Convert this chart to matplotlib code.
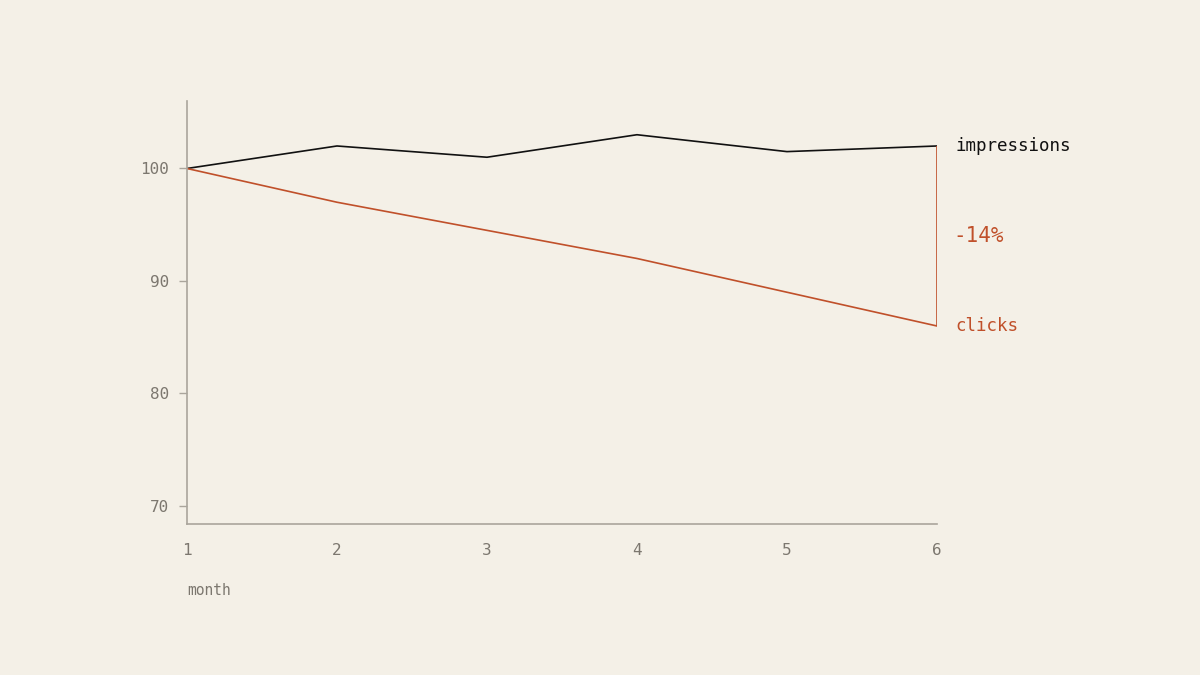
import matplotlib.pyplot as plt

# Chart data
months = [1, 2, 3, 4, 5, 6]
impressions = [100, 102, 101, 103, 101.5, 102]
clicks = [100, 97, 94.5, 92, 89, 86]
y_ticks = [70, 80, 90, 100]
gap_label = "-14%"

bg = "#f4f0e7"
orange = "#c0502a"
grey = "#7c776f"
spine_grey = "#aaa59c"

plt.rcParams['font.family'] = ['DejaVu Sans Mono']

fig = plt.figure(figsize=(12, 6.75), dpi=100, facecolor=bg)
ax = fig.add_axes([0.1558, 0.2237, 0.625, 0.6267])
ax.set_facecolor(bg)

ax.plot(months, impressions, color="#111111", lw=1.2)
ax.plot(months, clicks, color=orange, lw=1.2)

# gap between the two series at the last month
ax.vlines(months[-1], clicks[-1], impressions[-1], color=orange, lw=1.2)

ax.set_xlim(1, 6)
ax.set_ylim(68.4, 106)
ax.set_xticks(months)
ax.set_yticks(y_ticks)

for side in ["top", "right"]:
    ax.spines[side].set_visible(False)
for side in ["left", "bottom"]:
    ax.spines[side].set_color(spine_grey)
    ax.spines[side].set_linewidth(1.2)

ax.tick_params(axis="y", colors=spine_grey, labelcolor=grey, length=6,
               width=1, pad=7, labelsize=11.5)
ax.tick_params(axis="x", length=0, labelcolor=grey, pad=14, labelsize=11.5)

ax.text(0, -0.158, "month", transform=ax.transAxes, color=grey,
        fontsize=10.5, ha="left", va="center")

# direct labels
ax.annotate("impressions", (months[-1], impressions[-1]), xytext=(13, 0),
            textcoords="offset points", color="#111111", fontsize=12.6,
            va="center", ha="left", annotation_clip=False)
ax.annotate("clicks", (months[-1], clicks[-1]), xytext=(13, 0),
            textcoords="offset points", color=orange, fontsize=12.6,
            va="center", ha="left", annotation_clip=False)
mid = (impressions[-1] + clicks[-1]) / 2
ax.annotate(gap_label, (months[-1], mid), xytext=(12, 0),
            textcoords="offset points", color=orange, fontsize=15,
            va="center", ha="left", annotation_clip=False)

fig.savefig("out.png", dpi=100, facecolor=bg)
